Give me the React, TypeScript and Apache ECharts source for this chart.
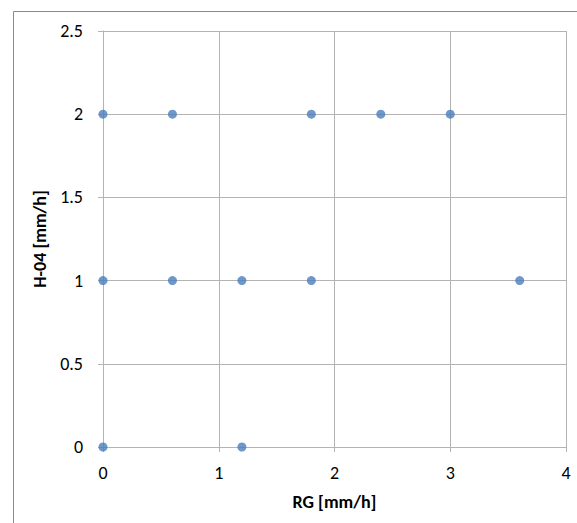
import React, { useEffect, useRef } from "react";
import * as echarts from "echarts";

const rgValues = [0, 0, 0, 0.6, 0.6, 1.2, 1.2, 1.8, 1.8, 2.4, 3, 3.6];
const h04Values = [0, 1, 2, 1, 2, 0, 1, 1, 2, 2, 2, 1];
const xName = "RG [mm/h]";
const yName = "H-04 [mm/h]";

export default function App() {
  const ref = useRef<HTMLDivElement>(null);
  useEffect(() => {
    document.body.style.margin = "0";
    const chart = echarts.init(ref.current!, null, { renderer: "svg" });
    const font = "Carlito, 'Liberation Sans', Arial, sans-serif";
    const gridColor = "#b3b3b3";
    chart.setOption({
      animation: false,
      backgroundColor: "#ffffff",
      textStyle: { fontFamily: font },
      graphic: [
        {
          type: "rect",
          shape: { x: 13.5, y: 11.5, width: 800, height: 800 },
          style: { fill: "none", stroke: "#8a8a8a", lineWidth: 1 },
          silent: true,
        },
      ],
      grid: { left: 103, top: 31, width: 463, height: 416 },
      xAxis: {
        type: "value",
        min: 0,
        max: 4,
        interval: 1,
        name: xName,
        nameLocation: "middle",
        nameGap: 46,
        nameTextStyle: { fontWeight: "bold", fontSize: 18, color: "#000", fontFamily: font },
        axisLine: { show: true, onZero: false, lineStyle: { color: gridColor } },
        axisTick: { show: true, length: 5, lineStyle: { color: gridColor } },
        axisLabel: { margin: 17, fontSize: 18, color: "#000", fontFamily: font },
        splitLine: { show: true, lineStyle: { color: gridColor } },
      },
      yAxis: {
        type: "value",
        min: 0,
        max: 2.5,
        interval: 0.5,
        name: yName,
        nameLocation: "middle",
        nameGap: 49,
        nameRotate: 90,
        nameTextStyle: { fontWeight: "bold", fontSize: 18, color: "#000", fontFamily: font },
        axisLine: { show: true, onZero: false, lineStyle: { color: gridColor } },
        axisTick: { show: true, length: 5, lineStyle: { color: gridColor } },
        axisLabel: { margin: 20, fontSize: 18, color: "#000", fontFamily: font },
        splitLine: { show: true, lineStyle: { color: gridColor } },
      },
      series: [
        {
          type: "scatter",
          data: rgValues.map((x, i) => [x, h04Values[i]]),
          symbol: "circle",
          symbolSize: 9,
          itemStyle: { color: "#4a7ebb" },
        },
      ],
    });
    return () => chart.dispose();
  }, []);
  return <div ref={ref} style={{ width: 577, height: 523 }} />;
}
